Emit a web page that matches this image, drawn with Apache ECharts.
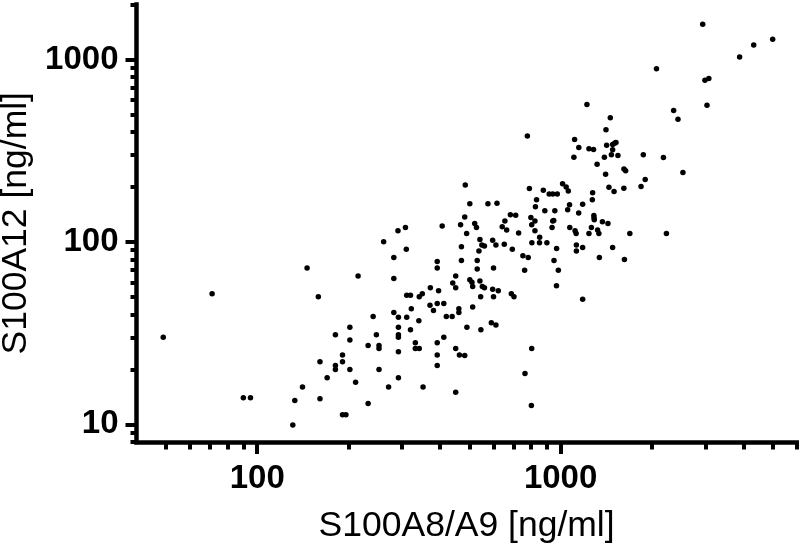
<!DOCTYPE html>
<html>
<head>
<meta charset="utf-8">
<script src="https://cdn.jsdelivr.net/npm/echarts@6.0.0/dist/echarts.min.js"></script>
<style>
  html, body { margin: 0; padding: 0; background: #fff; }
  #chart { width: 800px; height: 548px; }
</style>
</head>
<body>
<div id="chart"></div>
<script>
// S100A8/A9 [ng/ml] per sample (x)
const s100a8a9 = [
  49, 71, 146, 159, 181, 161, 181, 181, 170, 141,
  90, 95, 133, 161, 131, 261, 310, 282, 282, 215,
  471, 471, 392, 392, 538, 550, 561, 612, 652, 693,
  804, 852, 901, 751, 782, 761, 531, 531, 601, 451,
  441, 451, 502, 510, 513, 542, 552, 561, 597, 623,
  601, 545, 688, 702, 372, 396, 311, 320, 342, 350,
  371, 381, 392, 412, 322, 282, 292, 311, 341, 420,
  439, 462, 462, 513, 241, 202, 202, 247, 232, 252,
  252, 292, 292, 292, 320, 332, 332, 342, 292, 392,
  412, 392, 392, 491, 546, 591, 612, 451, 464, 483,
  191, 191, 202, 252, 211, 292, 271, 352, 232, 451,
  191, 196, 803, 763, 801, 777, 485, 789, 877, 917,
  833, 826, 887, 502, 576, 617, 683, 711, 483, 798,
  823, 803, 655, 642, 664, 468, 521, 528, 407, 291,
  308, 490, 542, 597, 727, 823, 853, 1221, 1458, 1411,
  3037, 2358, 2437, 1112, 1148, 1240, 1284, 1106, 1418, 1484,
  1507, 1522, 1484, 1470, 1545, 1394, 1319, 1873, 2182, 1617,
  1638, 1407, 2530, 1900, 1841, 1443, 1500, 1616, 1015, 1043,
  1060, 942, 975, 1275, 1272, 1182, 1070, 1055, 957, 1147,
  1287, 1289, 1291, 1373, 1432, 949, 942, 937, 1072, 1116,
  1125, 1263, 1324, 1337, 1240, 1691, 2232, 1127, 1127, 1182,
  970, 1484, 1342, 1623, 951, 983, 969, 1182, 2940, 4330,
  5000, 3890, 2070, 2990, 3080
];
// S100A12 [ng/ml] per sample (y)
const s100a12 = [
  30, 52, 72, 50, 31, 22, 21, 20, 18, 16,
  14, 14, 13.5, 13.8, 9.9, 100, 91, 82, 63, 65,
  94, 79, 78, 72, 89, 96, 95, 96, 97, 91,
  99, 99, 99, 84, 82, 70, 79, 71, 72, 65,
  59.5, 56, 62, 60, 57, 61, 57, 56, 55, 54,
  50, 50, 52, 50, 56, 54, 51, 51, 50, 52,
  45, 42, 46, 46, 43, 41, 38.6, 38.6, 37, 39,
  39, 43, 41, 44, 39, 34, 29, 31, 27, 27,
  26, 34, 31, 30, 33, 28, 26, 26, 25, 28,
  30, 24, 21, 34, 33, 36, 35, 26, 24, 23.8,
  24, 22, 20, 20, 17, 18, 16, 16, 13, 15,
  11.3, 11.3, 26, 19, 12.7, 380, 205, 196, 192, 183,
  170, 156, 148, 162, 162, 163, 141, 140, 137, 136,
  130, 124, 130, 121, 116, 124, 126, 120, 122, 115,
  120, 111, 103, 102, 112, 115, 106, 566, 479, 412,
  561, 525, 470, 364, 329, 324, 321, 291, 339, 342,
  347, 350, 320, 300, 297, 291, 266, 300, 290, 251,
  245, 235, 240, 220, 201, 199, 189, 197, 208, 200,
  190, 183, 183, 186, 170, 161, 160, 150, 148, 144,
  139.5, 135, 132, 129, 126, 131, 130, 120, 120, 115,
  111, 120, 116, 111, 111, 111, 111, 96, 89, 93,
  92, 93, 82, 80, 79, 70, 57.5, 48.5, 1560, 1200,
  1290, 1030, 890, 770, 785
];

// axis ranges and ticks
const xRange = [40, 6000];
const yRange = [8, 2000];
const xMajorTicks = [100, 1000];
const xMinorTicks = [50, 60, 70, 80, 90, 200, 300, 400, 500, 600, 700, 800, 900, 2000, 3000, 4000, 5000, 6000];
const yMajorTicks = [10, 100, 1000];
const yMinorTicks = [8, 9, 20, 30, 40, 50, 60, 70, 80, 90, 200, 300, 400, 500, 600, 700, 800, 900, 2000];

const points = s100a8a9.map((x, i) => [x, s100a12[i]]);

const labelFont = {
  color: '#000',
  fontFamily: 'Liberation Sans, Arial, sans-serif',
  fontWeight: 'bold',
  fontSize: 33
};
const nameFont = {
  color: '#000',
  fontFamily: 'Liberation Sans, Arial, sans-serif',
  fontSize: 35.5
};

// main axis: line, long ticks, labels
function majorAxis(pos, range, ticks, len, margin, name, gap) {
  return {
    type: 'log',
    logBase: 10,
    position: pos,
    min: range[0],
    max: range[1],
    name: name,
    nameLocation: 'middle',
    nameGap: gap,
    nameTextStyle: nameFont,
    axisLine: { show: true, onZero: false, lineStyle: { color: '#000', width: 4.5, cap: 'square' } },
    axisTick: { show: true, customValues: ticks, length: len, lineStyle: { color: '#000', width: 4 } },
    axisLabel: Object.assign({
      show: true,
      customValues: ticks,
      margin: margin,
      formatter: (v) => String(Math.round(v)) // no thousands separator
    }, labelFont),
    splitLine: { show: false },
    minorTick: { show: false },
    minorSplitLine: { show: false }
  };
}
// overlay axis: only the short ticks
function minorAxis(pos, range, ticks, len) {
  return {
    type: 'log',
    logBase: 10,
    position: pos,
    min: range[0],
    max: range[1],
    axisLine: { show: false, onZero: false },
    axisTick: { show: true, customValues: ticks, length: len, lineStyle: { color: '#000', width: 4 } },
    axisLabel: { show: false },
    splitLine: { show: false }
  };
}

const chart = echarts.init(document.getElementById('chart'));
chart.setOption({
  backgroundColor: '#fff',
  animation: false,
  grid: {
    left: 136.5,
    right: 3.3,
    top: 4.5,
    bottom: 106,
    containLabel: false,
    outerBoundsMode: 'none'
  },
  xAxis: [
    majorAxis('bottom', xRange, xMajorTicks, 12, 20, 'S100A8/A9 [ng/ml]', 66),
    minorAxis('bottom', xRange, xMinorTicks, 7.5)
  ],
  yAxis: [
    majorAxis('left', yRange, yMajorTicks, 11, 18, 'S100A12 [ng/ml]', 101),
    minorAxis('left', yRange, yMinorTicks, 6)
  ],
  series: [
    {
      type: 'scatter',
      xAxisIndex: 0,
      yAxisIndex: 0,
      symbol: 'circle',
      symbolSize: 5.5,
      itemStyle: { color: '#000', opacity: 1 },
      data: points
    }
  ]
});
</script>
</body>
</html>
